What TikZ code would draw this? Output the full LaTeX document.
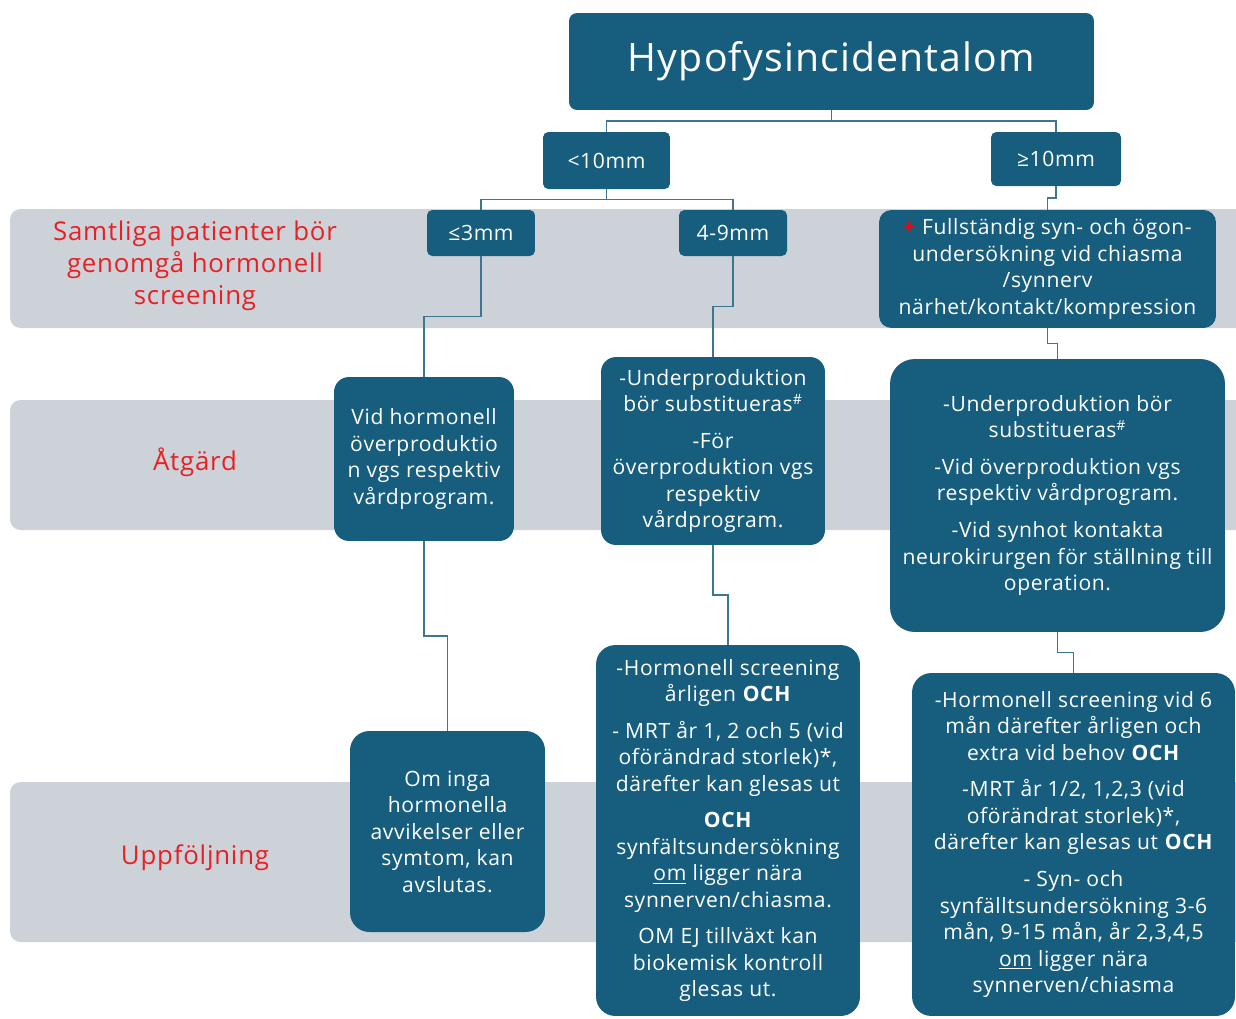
\documentclass[tikz,border=0pt]{standalone}
\usepackage{fontspec}
\setmainfont[LetterSpace=3]{Open Sans}
\usetikzlibrary{calc}
\definecolor{boxblue}{RGB}{23,94,126}
\definecolor{bandgray}{RGB}{205,210,217}
\definecolor{labelred}{RGB}{232,32,36}
\definecolor{linkblue}{RGB}{62,118,146}
\begin{document}
\begin{tikzpicture}[x=0.02cm, y=-0.02cm,
  box/.style={fill=boxblue, text=white, align=center, inner sep=0pt, font=\fontsize{12}{15.1}\selectfont},
  tag/.style={text=labelred, align=center, font=\fontsize{14.7}{18.2}\selectfont},
  elbow/.style={draw=linkblue, line width=1pt, to path={(\tikztostart) |- ($(\tikztostart)!.5!(\tikztotarget)$) -| (\tikztotarget)}}]
\useasboundingbox (0,0) rectangle (1236,1018);
% grey bands
\fill[bandgray] (1236,328) [rounded corners=6pt] -- (10,328) -- (10,209) [sharp corners] -- (1236,209) -- cycle;
\fill[bandgray] (1236,530) [rounded corners=6pt] -- (10,530) -- (10,400) [sharp corners] -- (1236,400) -- cycle;
\fill[bandgray] (1236,942) [rounded corners=6pt] -- (10,942) -- (10,782) [sharp corners] -- (1236,782) -- cycle;
\node[tag] (screen) at (195,266) {Samtliga patienter bör\\genomgå hormonell\\screening};
\node[tag] (action) at (195,462) {Åtgärd};
\node[tag] (follow) at (195,858) {Uppföljning};
% boxes
\node[box, rounded corners=4.5pt, minimum width=10.5cm, minimum height=1.94cm, font=\fontsize{22.3}{26}\selectfont] (top) at (831.5,61.5) {Hypofysincidentalom};
\node[box, rounded corners=3pt, minimum width=2.54cm, minimum height=1.14cm] (small) at (606.5,160.5) {<10mm};
\node[box, rounded corners=3pt, minimum width=2.6cm, minimum height=1.08cm] (large) at (1056,159) {≥10mm};
\node[box, rounded corners=3pt, minimum width=2.16cm, minimum height=0.92cm] (tiny) at (481,233) {≤3mm};
\node[box, rounded corners=3pt, minimum width=2.16cm, minimum height=0.92cm] (mid) at (733,233) {4-9mm};
\node[box, rounded corners=7pt, minimum width=6.74cm, minimum height=2.36cm] (exam) at (1047.5,269) {\textcolor{red}{\textbf{+}} Fullständig syn- och ögon-\\undersökning vid chiasma\\/synnerv\\närhet/kontakt/kompression};
\node[box, rounded corners=8.5pt, minimum width=3.6cm, minimum height=3.28cm] (acta) at (424,459) {Vid hormonell\\överproduktio\\n vgs respektiv\\vårdprogram.};
\node[box, rounded corners=8.5pt, minimum width=4.48cm, minimum height=3.76cm] (actb) at (713,451) {-Underproduktion\\bör substitueras\textsuperscript{\#}\\[5.7pt]-För\\överproduktion vgs\\respektiv\\vårdprogram.};
\node[box, rounded corners=14pt, minimum width=6.7cm, minimum height=5.46cm] (actc) at (1057.5,495.5) {-Underproduktion bör\\substitueras\textsuperscript{\#}\\[5.7pt]-Vid överproduktion vgs\\respektiv vårdprogram.\\[5.7pt]-Vid synhot kontakta\\neurokirurgen för ställning till\\operation.};
\node[box, rounded corners=11pt, minimum width=3.9cm, minimum height=4.02cm] (fola) at (447.5,831.5) {Om inga\\hormonella\\avvikelser eller\\symtom, kan\\avslutas.};
\node[box, rounded corners=11pt, minimum width=5.28cm, minimum height=7.42cm] (folb) at (728,830.5) {-Hormonell screening\\årligen \textbf{OCH}\\[5.7pt]- MRT år 1, 2 och 5 (vid\\oförändrad storlek)*,\\därefter kan glesas ut\\[5.7pt]\textbf{OCH}\\synfältsundersökning\\\underline{om} ligger nära\\synnerven/chiasma.\\[5.7pt]OM EJ tillväxt kan\\biokemisk kontroll\\glesas ut.};
\node[box, rounded corners=11pt, minimum width=6.46cm, minimum height=6.86cm] (folc) at (1073.5,844.5) {-Hormonell screening vid 6\\mån därefter årligen och\\extra vid behov \textbf{OCH}\\[5.7pt]-MRT år 1/2, 1,2,3 (vid\\oförändrat storlek)*,\\därefter kan glesas ut \textbf{OCH}\\[5.7pt]- Syn- och\\synfälltsundersökning 3-6\\mån, 9-15 mån, år 2,3,4,5\\\underline{om} ligger nära\\synnerven/chiasma};
% connectors
\draw[elbow] (top.south) to (small.north);
\draw[elbow] (top.south) to (large.north);
\draw[elbow] (small.south) to (tiny.north);
\draw[elbow] (small.south) to (mid.north);
\draw[elbow] (large.south) to (exam.north);
\draw[elbow] (tiny.south) to (acta.north);
\draw[elbow] (mid.south) to (actb.north);
\draw[elbow] (exam.south) to (actc.north);
\draw[elbow] (acta.south) to (fola.north);
\draw[elbow] (actb.south) to (folb.north);
\draw[elbow] (actc.south) to (folc.north);
\end{tikzpicture}
\end{document}
